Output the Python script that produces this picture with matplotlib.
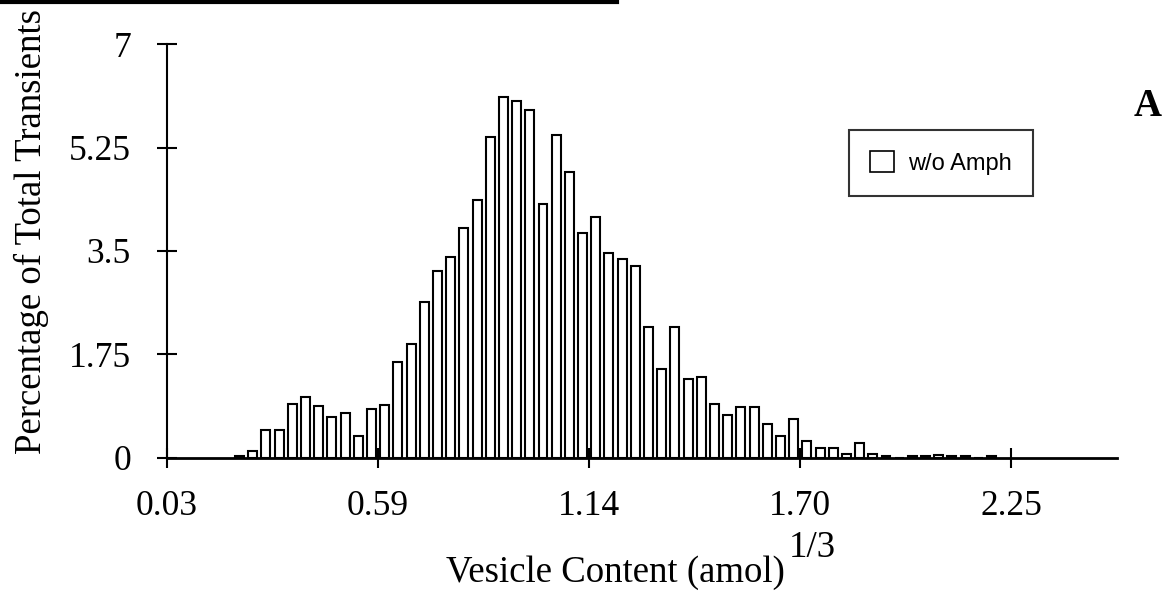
import numpy as np
import matplotlib.pyplot as plt
from matplotlib.lines import Line2D

plt.rcParams['font.family'] = 'Liberation Serif'

# Data: histogram of vesicle content, 64 bins between 0.03 and 2.25
x_start = 0.03
x_end = 2.25
n_ticks_bins = 64
first_bin = 5
heights = [0.03, 0.12, 0.47, 0.47, 0.92, 1.03, 0.88, 0.70, 0.76, 0.37,
           0.83, 0.90, 1.62, 1.92, 2.64, 3.16, 3.40, 3.89, 4.37, 5.42,
           6.11, 6.03, 5.89, 4.29, 5.46, 4.83, 3.81, 4.07, 3.47, 3.36,
           3.25, 2.21, 1.50, 2.21, 1.33, 1.37, 0.92, 0.72, 0.86, 0.86,
           0.58, 0.38, 0.66, 0.28, 0.17, 0.17, 0.06, 0.26, 0.07, 0.04,
           0.00, 0.04, 0.04, 0.05, 0.04, 0.04, 0.00, 0.04]
x_tick_vals = [0.03, 0.585, 1.14, 1.695, 2.25]
x_tick_labels = ['0.03', '0.59', '1.14', '1.70', '2.25']
y_tick_vals = [0, 1.75, 3.5, 5.25, 7]
y_tick_labels = ['0', '1.75', '3.5', '5.25', '7']

bw = (x_end - x_start) / n_ticks_bins
idx = np.arange(first_bin, first_bin + len(heights))
centers = x_start + (idx + 0.5) * bw

fig = plt.figure(figsize=(11.64, 6.07), dpi=100)
ax = fig.add_axes([0.1435, 0.2455, 0.816, 0.682])

ax.bar(centers, heights, width=bw * 0.68, color='white',
       edgecolor='black', linewidth=1.5, label='w/o Amph', zorder=2)

ax.set_xlim(x_start, x_start + 72 * bw)
ax.set_ylim(0, 7)
ax.spines['top'].set_visible(False)
ax.spines['right'].set_visible(False)
ax.spines['left'].set_linewidth(1.5)
ax.spines['bottom'].set_linewidth(2)
ax.spines['bottom'].set_zorder(3)

ax.set_xticks(x_tick_vals)
ax.set_xticklabels(x_tick_labels, fontsize=25.5)
ax.set_yticks(y_tick_vals)
ax.set_yticklabels(y_tick_labels, fontsize=25.5)
ax.tick_params(axis='x', direction='inout', length=14, width=1.5, pad=16)
ax.tick_params(axis='y', direction='inout', length=14, width=1.5, pad=19)

# axis titles
fig.text(31 / 1164, 1 - 232 / 607, 'Percentage of Total Transients',
         rotation=90, ha='center', va='center', fontsize=26.5)
fig.text(785 / 1164, 1 - 573 / 607, 'Vesicle Content (amol)',
         ha='right', va='center', fontsize=26.5)
fig.text(789 / 1164, 1 - 548 / 607, '1/3', ha='left', va='center',
         fontsize=26.5)

# panel letter
fig.text(1148 / 1164, 1 - 106 / 607, 'A', ha='center', va='center',
         fontsize=28, fontweight='bold')

# legend
handle = plt.Rectangle((0, 0), 1, 1, facecolor='white', edgecolor='black',
                       linewidth=1.2)
leg = ax.legend([handle], ['w/o Amph'], loc='center',
                bbox_to_anchor=(941 / 1164, 1 - 163 / 607),
                bbox_transform=fig.transFigure, frameon=True, fancybox=False,
                prop={'family': 'Liberation Sans', 'size': 17},
                handlelength=1.0, handleheight=1.0, handletextpad=0.6,
                borderpad=0.9, borderaxespad=0)
leg.get_frame().set_edgecolor('black')
leg.get_frame().set_linewidth(1.5)

# scan border line at top
fig.add_artist(Line2D([0, 0.53], [0.997, 0.997], color='black',
                      linewidth=3, transform=fig.transFigure))

fig.savefig('out.png', dpi=100)
